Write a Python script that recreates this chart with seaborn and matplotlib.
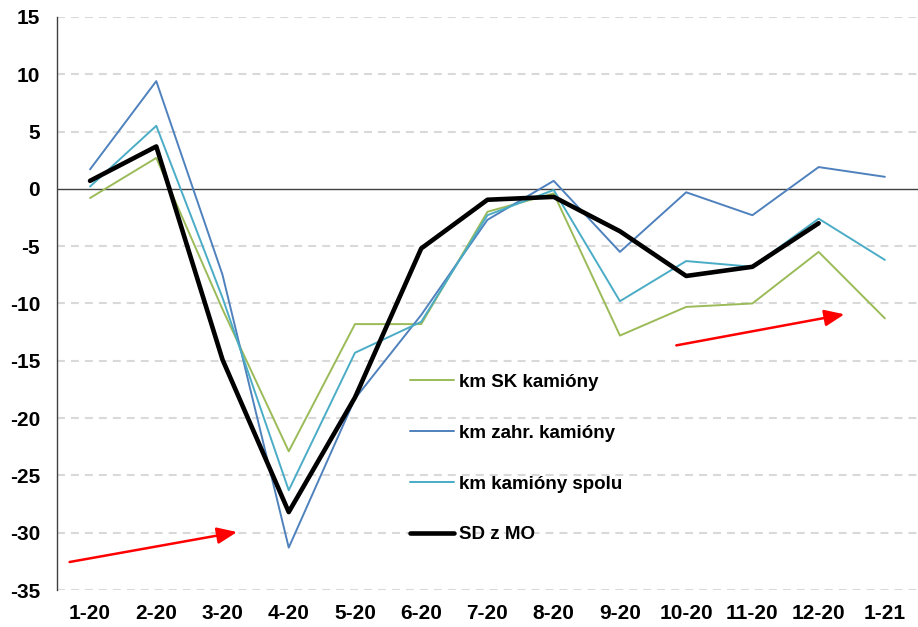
import numpy as np
import pandas as pd
import seaborn as sns
import matplotlib.pyplot as plt

months = ["1-20", "2-20", "3-20", "4-20", "5-20", "6-20", "7-20",
          "8-20", "9-20", "10-20", "11-20", "12-20", "1-21"]

km_sk = [-0.8, 2.7, -10.5, -22.9, -11.8, -11.8, -2.0, -0.4, -12.8, -10.3, -10.0, -5.5, -11.3]
km_zahr = [1.7, 9.4, -7.5, -31.3, -18.3, -11.0, -2.7, 0.7, -5.5, -0.3, -2.3, 1.9, 1.05]
km_spolu = [0.2, 5.5, -9.5, -26.3, -14.3, -11.6, -2.3, -0.1, -9.8, -6.3, -6.8, -2.6, -6.2]
sd_mo = [0.7, 3.7, -14.9, -28.2, -18.2, -5.2, -0.95, -0.7, -3.7, -7.6, -6.8, -3.0, np.nan]

series = {
    "km SK kamióny": km_sk,
    "km zahr. kamióny": km_zahr,
    "km kamióny spolu": km_spolu,
    "SD z MO": sd_mo,
}
colors = {
    "km SK kamióny": "#9BBB59",
    "km zahr. kamióny": "#4F81BD",
    "km kamióny spolu": "#4BACC6",
    "SD z MO": "#000000",
}
widths = {"km SK kamióny": 1.4, "km zahr. kamióny": 1.4,
          "km kamióny spolu": 1.4, "SD z MO": 3.3}

rows = []
for name, vals in series.items():
    for i, v in enumerate(vals):
        rows.append({"idx": i, "value": v, "series": name})
df = pd.DataFrame(rows)

sns.set_style("white")
plt.rcParams['font.family'] = ['Liberation Sans', 'DejaVu Sans']
plt.rcParams['font.weight'] = 'bold'
plt.rcParams['axes.unicode_minus'] = False
plt.rcParams['text.color'] = 'black'
plt.rcParams['xtick.color'] = 'black'
plt.rcParams['ytick.color'] = 'black'

fig, ax = plt.subplots(figsize=(9.18, 6.27), dpi=100)
fig.subplots_adjust(left=0.062, right=1.0, bottom=0.059, top=0.973)

for name in series:
    sub = df[df["series"] == name]
    sns.lineplot(data=sub, x="idx", y="value", ax=ax, color=colors[name],
                 linewidth=widths[name], label=name, estimator=None)

ax.set_xlim(-0.5, 12.5)
ax.set_ylim(-35, 15)
ax.set_yticks(range(-35, 16, 5))
ax.set_xticks(range(len(months)))
ax.set_xticklabels(months)
ax.tick_params(axis='both', labelsize=15, length=0, labelcolor='black')
ax.tick_params(axis='x', pad=10)
ax.tick_params(axis='y', pad=12)
for lab in ax.get_xticklabels() + ax.get_yticklabels():
    lab.set_fontweight('bold')
ax.set_xlabel("")
ax.set_ylabel("")

for y in range(-35, 16, 5):
    if y != 0:
        ax.axhline(y, color="#D9D9D9", linewidth=1.5, linestyle=(0, (3.8, 2.9)), zorder=0)
ax.axhline(0, color="#404040", linewidth=1.0, zorder=1)

for s in ["top", "right", "bottom"]:
    ax.spines[s].set_visible(False)
ax.spines["left"].set_color("#404040")
ax.spines["left"].set_linewidth(1.0)

# red trend arrows
arrow_style = dict(arrowstyle="-|>,head_length=1.2,head_width=0.5", color="red", lw=1.8)
ax.annotate("", xy=(2.26, -29.9), xytext=(-0.35, -32.6), arrowprops=arrow_style)
ax.annotate("", xy=(11.43, -10.9), xytext=(8.81, -13.7), arrowprops=arrow_style)

leg = ax.legend(loc="upper left", bbox_to_anchor=(0.391, 0.407), frameon=False,
                fontsize=13.5, handlelength=2.3, labelspacing=1.8, handletextpad=0.3)
for t in leg.get_texts():
    t.set_fontweight('bold')
    t.set_color('black')

fig.savefig("out.png", dpi=100)
